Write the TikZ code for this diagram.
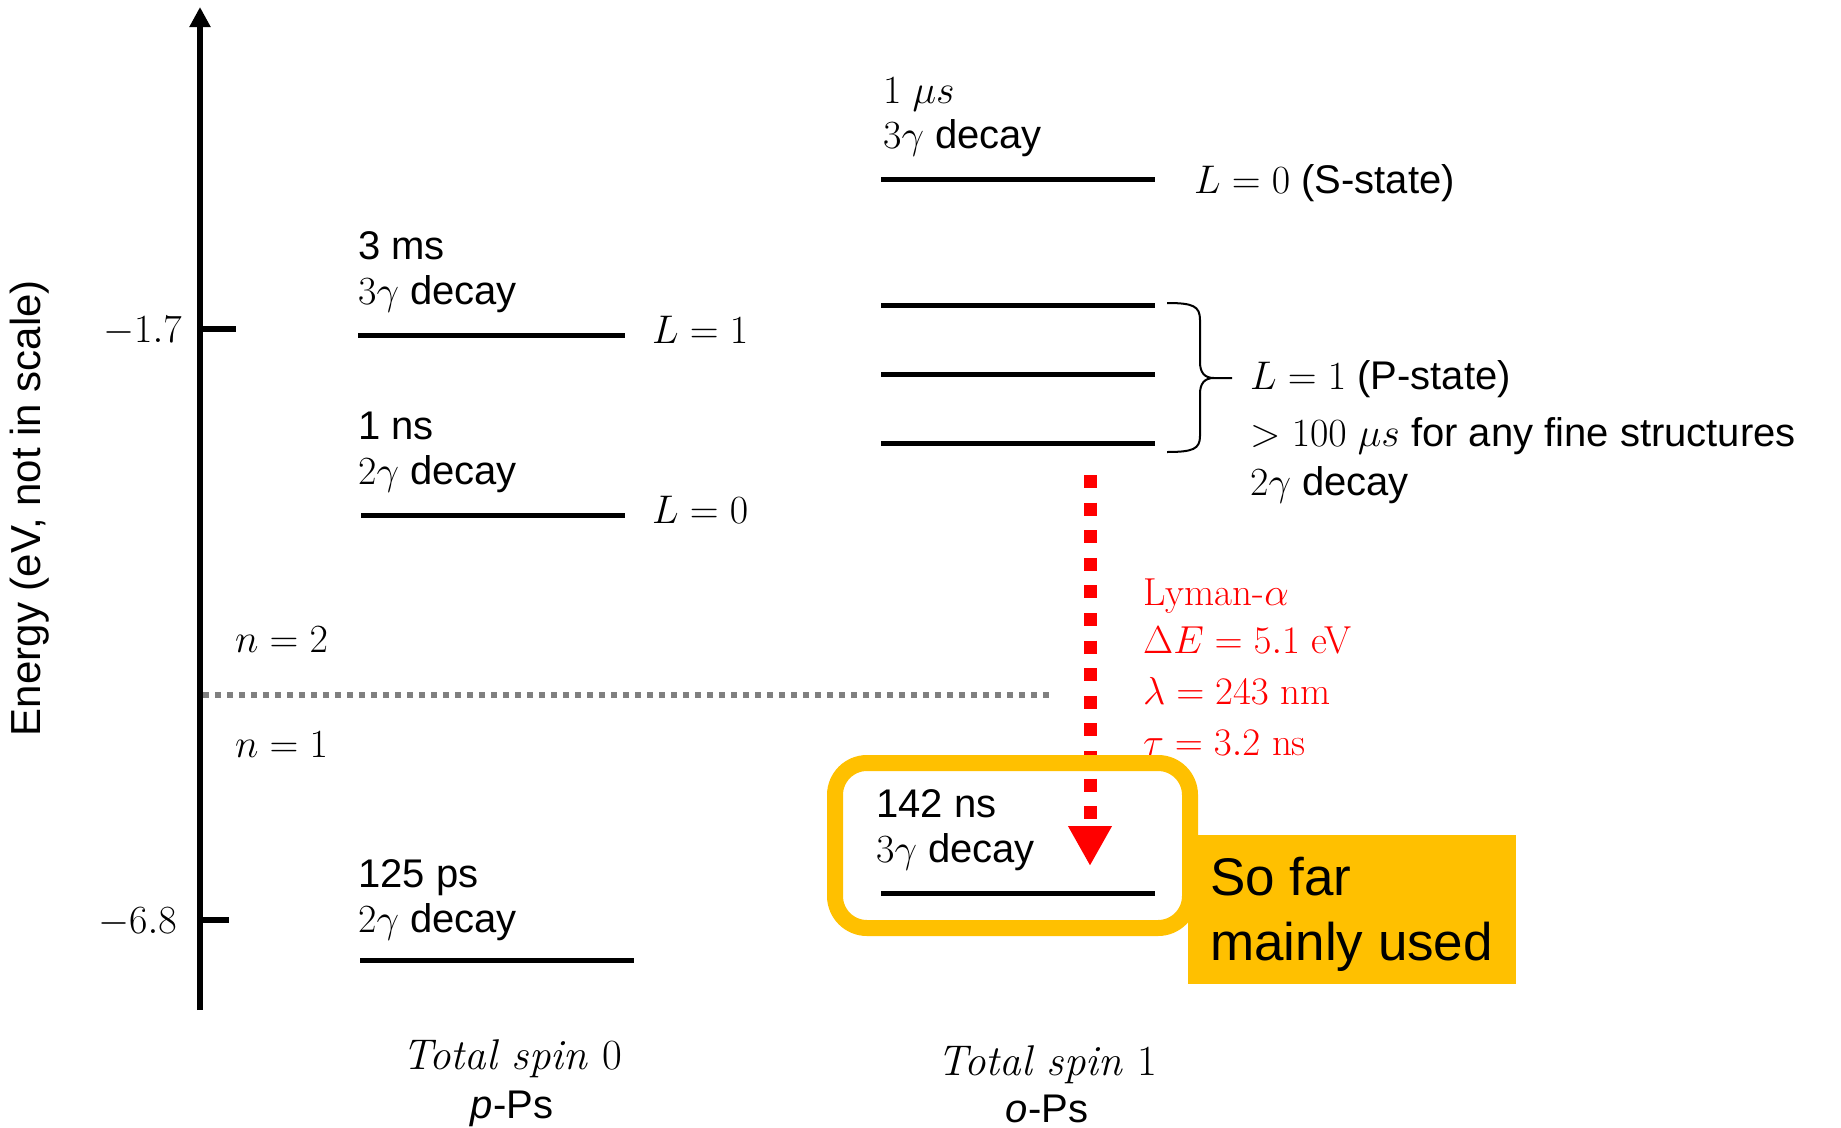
\RequirePackage{fix-cm}
\documentclass[tikz,border=0pt]{standalone}
\usepackage{fontspec}
\newfontfamily\arial{Liberation Sans}
\usetikzlibrary{arrows.meta}
\definecolor{ppyellow}{RGB}{255,192,0}
\definecolor{dotgray}{RGB}{128,128,128}
\begin{document}
\begin{tikzpicture}[x=1pt,y=-1pt,
  txt/.style={anchor=base west,inner sep=0pt,font=\arial\fontsize{40}{45}\selectfont},
  txtc/.style={anchor=base,inner sep=0pt,font=\arial\fontsize{40}{45}\selectfont},
  mtxt/.style={anchor=base west,inner sep=0pt,font=\rmfamily\fontsize{40}{45}\selectfont},
  tick/.style={anchor=base east,inner sep=0pt,font=\rmfamily\fontsize{40}{45}\selectfont},
  rtxt/.style={anchor=base west,inner sep=0pt,text=red,font=\rmfamily\fontsize{39}{44}\selectfont},
  spin/.style={anchor=base,inner sep=0pt,font=\rmfamily\fontsize{43}{48}\selectfont},
  big/.style={anchor=base west,inner sep=0pt,font=\arial\fontsize{53}{65}\selectfont},
  lvl/.style={line width=5pt},
  axisline/.style={line width=6pt},
]
\useasboundingbox[fill=white] (0,0) rectangle (1841,1127);

% energy axis
\coordinate (axB) at (200,1010);
\coordinate (axT) at (200,7);
\draw[axisline,-{Triangle[width=20pt,length=20pt]}] (axB) -- (axT);
\coordinate (t1a) at (197,329); \coordinate (t1b) at (236,329);
\coordinate (t2a) at (197,920); \coordinate (t2b) at (229,920);
\draw[axisline] (t1a) -- (t1b);
\draw[axisline] (t2a) -- (t2b);
\node[tick] (m17) at (182,342) {$-1.7$};
\node[tick] (m68) at (177,933) {$-6.8$};
\node[rotate=90,inner sep=0pt,font=\arial\fontsize{42}{45}\selectfont] (elab) at (30,508) {Energy (eV, not in scale)};

% n=2 / n=1 boundary
\coordinate (dA) at (203,695);
\coordinate (dB) at (1052,695);
\draw[dotgray,line width=6pt,dash pattern=on 6pt off 6pt] (dA) -- (dB);
\node[mtxt] (n2) at (235,652) {$n=2$};
\node[mtxt] (n1) at (235,757) {$n=1$};

% para-positronium
\node[txt] (a1) at (358,259) {3 ms};
\node[txt] (a2) at (358,304) {$3\gamma$ decay};
\coordinate (pL1a) at (358,335); \coordinate (pL1b) at (625,335);
\draw[lvl] (pL1a) -- (pL1b);
\node[mtxt] (pL1) at (652,343) {$L=1$};

\node[txt] (b1) at (358,439) {1 ns};
\node[txt] (b2) at (358,484) {$2\gamma$ decay};
\coordinate (pL0a) at (361,515); \coordinate (pL0b) at (625,515);
\draw[lvl] (pL0a) -- (pL0b);
\node[mtxt] (pL0) at (652,523) {$L=0$};

\node[txt] (c1) at (358,887) {125 ps};
\node[txt] (c2) at (358,932) {$2\gamma$ decay};
\coordinate (pGa) at (360,960); \coordinate (pGb) at (634,960);
\draw[lvl] (pGa) -- (pGb);

\node[spin] (sp0) at (512,1069) {\itshape Total spin \upshape 0};
\node[txtc] (pps) at (512,1118) {\itshape p\upshape -Ps};

% ortho-positronium
\node[txt] (d1) at (883,103) {$1$ $\mu s$};
\node[txt] (d2) at (883,148) {$3\gamma$ decay};
\coordinate (oSa) at (881,179); \coordinate (oSb) at (1155,179);
\draw[lvl] (oSa) -- (oSb);
\node[txt] (oS) at (1194,193) {$L=0$ (S-state)};

\coordinate (oP1a) at (881,305); \coordinate (oP1b) at (1155,305);
\coordinate (oP2a) at (881,374); \coordinate (oP2b) at (1155,374);
\coordinate (oP3a) at (881,443); \coordinate (oP3b) at (1155,443);
\draw[lvl] (oP1a) -- (oP1b);
\draw[lvl] (oP2a) -- (oP2b);
\draw[lvl] (oP3a) -- (oP3b);
% curly brace grouping the P-state levels
\draw[line width=2pt]
  (1167,303) .. controls (1193,303) and (1200,306) .. (1200,320)
  -- (1200,362) .. controls (1200,372) and (1204,378) .. (1214,378)
  -- (1232,378)
  (1214,378) .. controls (1204,378) and (1200,384) .. (1200,394)
  -- (1200,436) .. controls (1200,449) and (1193,452) .. (1167,452);
\node[txt] (e1) at (1250,389) {$L=1$ (P-state)};
\node[txt] (e2) at (1250,446) {$>100$ $\mu s$ for any fine structures};
\node[txt] (e3) at (1250,495) {$2\gamma$ decay};

% Lyman-alpha transition
\node[rtxt] (r1) at (1143,605) {Lyman-$\alpha$};
\node[rtxt] (r2) at (1143,653) {$\Delta E = 5.1$ eV};
\node[rtxt] (r3) at (1143,704) {$\lambda = 243$ nm};
\node[rtxt] (r4) at (1143,755) {$\tau = 3.2$ ns};
\coordinate (arS) at (1090,475);
\coordinate (arE) at (1090,866);
\draw[red,line width=13pt,dash pattern=on 13pt off 14.6pt,
      -{Triangle[width=41pt,length=40pt]}] (arS) -- (arE);

% highlighted ground state
\node[draw=ppyellow,line width=16pt,rounded corners=32pt,minimum width=355pt,
      minimum height=165pt,inner sep=0pt] (hl) at (1012.5,845.5) {};
\node[txt] (f1) at (876,817) {142 ns};
\node[txt] (f2) at (876,862) {$3\gamma$ decay};
\coordinate (oGa) at (881,893); \coordinate (oGb) at (1155,893);
\draw[lvl] (oGa) -- (oGb);

\node[fill=ppyellow,minimum width=328pt,minimum height=149pt,inner sep=0pt] (used) at (1352,909.5) {};
\node[big] (g1) at (1210,895) {So far};
\node[big] (g2) at (1210,960) {mainly used};

\node[spin] (sp1) at (1047,1075) {\itshape Total spin \upshape 1};
\node[txtc] (ops) at (1047,1122) {\itshape o\upshape -Ps};
\end{tikzpicture}
\end{document}
